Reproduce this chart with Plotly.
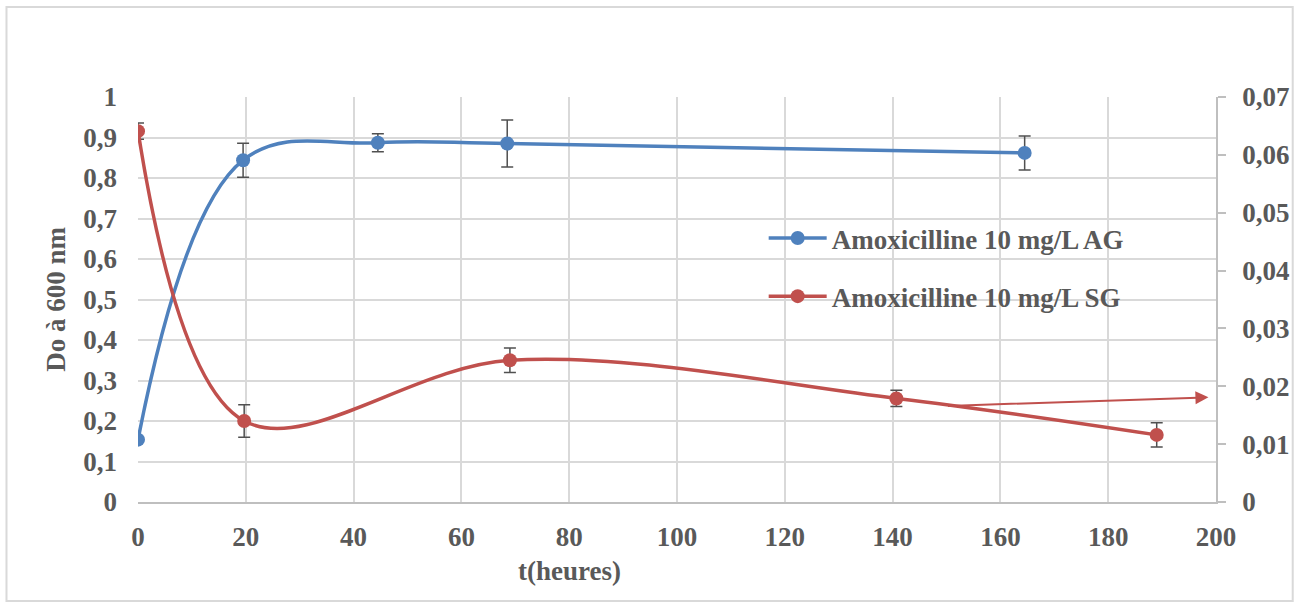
import plotly.graph_objects as go

# ---- data ----
t_ag = [0, 19.5, 44.5, 68.5, 164.5]
do_ag = [0.154, 0.844, 0.887, 0.885, 0.862]
err_ag = [0.0, 0.042, 0.022, 0.058, 0.042]

t_sg = [0, 19.7, 69.0, 140.7, 189.0]
do_sg = [0.0641, 0.0140, 0.0245, 0.0179, 0.0116]
err_sg = [0.0014, 0.0028, 0.0021, 0.0014, 0.0021]

name_ag = "Amoxicilline 10 mg/L AG"
name_sg = "Amoxicilline 10 mg/L SG"

x_ticks = list(range(0, 201, 20))
y_left_ticks = [i / 10 for i in range(0, 11)]
y_right_ticks = [i / 100 for i in range(0, 8)]

arrow_tail = (150.0, 0.0166)
arrow_tip = (198.6, 0.0181)

BLUE = "#4f81bd"
RED = "#c0504d"
TXT = "#595959"
GRID = "#d9d9d9"
FONT = "Liberation Serif"
FS = 27

fig = go.Figure()
fig.add_trace(go.Scatter(
    x=t_ag, y=do_ag, name=name_ag, mode="lines+markers",
    line=dict(color=BLUE, width=3.5, shape="spline", smoothing=1.1),
    marker=dict(color=BLUE, size=14),
    error_y=dict(type="data", array=err_ag, visible=True, color="#505050", thickness=1.5, width=6),
    legendgroup="a",
))
fig.add_trace(go.Scatter(
    x=t_sg, y=do_sg, name=name_sg, mode="lines+markers", yaxis="y2",
    line=dict(color=RED, width=3.5, shape="spline", smoothing=1.0),
    marker=dict(color=RED, size=14),
    error_y=dict(type="data", array=err_sg, visible=True, color="#505050", thickness=1.5, width=6),
    legendgroup="b",
))

W, H = 1301, 603
ml, mr, mt, mb = 138, 81, 97, 101
pw = W - ml - mr
ph = H - mt - mb

def px2paper_x(px):
    return (px - ml) / pw

def px2paper_y(py):
    return (H - mb - py) / ph

tickfont = dict(family=FONT, size=FS, color=TXT, weight="bold")

fig.update_layout(
    width=W, height=H,
    margin=dict(l=ml, r=mr, t=mt, b=mb),
    paper_bgcolor="white", plot_bgcolor="white",
    separators=", ",
    showlegend=True,
    legend=dict(
        x=px2paper_x(766), y=px2paper_y(214), xanchor="left", yanchor="top",
        font=dict(family=FONT, size=FS, color=TXT, weight="bold"),
        bgcolor="rgba(0,0,0,0)", traceorder="grouped", tracegroupgap=20,
        itemwidth=58,
    ),
    xaxis=dict(
        range=[0, 200], tickvals=x_ticks, ticktext=[str(v) for v in x_ticks],
        showgrid=True, gridcolor=GRID, gridwidth=1.5,
        showline=True, linecolor="#bfbfbf", linewidth=1.5,
        zeroline=False, ticks="", tickfont=tickfont, ticklabelstandoff=10,
    ),
    yaxis=dict(
        range=[0, 1], tickvals=y_left_ticks,
        ticktext=[("%g" % v).replace(".", ",") for v in y_left_ticks],
        showgrid=True, gridcolor=GRID, gridwidth=1.5,
        showline=False, zeroline=False, ticks="", tickfont=tickfont,
        ticklabelstandoff=20,
    ),
    yaxis2=dict(
        range=[0, 0.07], tickvals=y_right_ticks,
        ticktext=[("%g" % v).replace(".", ",") for v in y_right_ticks],
        overlaying="y", side="right", showgrid=False, zeroline=False,
        showline=True, linecolor="#bfbfbf", linewidth=1.5,
        ticks="outside", ticklen=8, tickcolor="#bfbfbf", tickwidth=1.5,
        tickfont=tickfont, ticklabelstandoff=11,
    ),
    annotations=[
        dict(text="t(heures)", xref="paper", yref="paper",
             x=px2paper_x(571), y=px2paper_y(571), showarrow=False,
             xanchor="center", yanchor="middle",
             font=dict(family=FONT, size=FS, color=TXT, weight="bold")),
        dict(text="Do à 600 nm", xref="paper", yref="paper",
             x=px2paper_x(55), y=0.5, showarrow=False, textangle=-90,
             xanchor="center", yanchor="middle",
             font=dict(family=FONT, size=FS, color=TXT, weight="bold")),
        dict(x=arrow_tip[0], y=arrow_tip[1], xref="x", yref="y2",
             ax=arrow_tail[0], ay=arrow_tail[1], axref="x", ayref="y2",
             showarrow=True, arrowhead=2, arrowsize=1.3, arrowwidth=2,
             arrowcolor=RED, text=""),
    ],
    shapes=[
        dict(type="rect", xref="paper", yref="paper",
             x0=px2paper_x(6), x1=px2paper_x(1297),
             y0=px2paper_y(601), y1=px2paper_y(7),
             line=dict(color="#d9d9d9", width=2), fillcolor="rgba(0,0,0,0)",
             layer="below"),
    ],
)

fig.write_html("out.html")
